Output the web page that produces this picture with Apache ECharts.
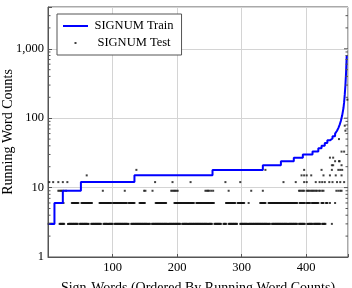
<!DOCTYPE html>
<html>
<head>
<meta charset="utf-8">
<script src="https://cdn.jsdelivr.net/npm/echarts@6/dist/echarts.min.js"></script>
<style>
  html, body { margin: 0; padding: 0; background: #fff; }
  #chart { width: 352px; height: 288px; }
</style>
</head>
<body>
<div id="chart"></div>
<script>
// train curve: sign-word index where the count changes, and the new count
const trainIdx = [1, 10, 23, 51, 134, 255, 333, 361, 381, 395, 410, 419, 424, 429, 433, 437, 441, 445, 448, 450, 452, 454, 456, 458, 459, 460, 461, 462, 463];
const trainCount = [3, 6, 9, 12, 15, 18, 21, 24, 27, 30, 33, 37, 40, 44, 48, 51, 55, 60, 66, 72, 80, 92, 110, 140, 170, 220, 300, 450, 800];

// test counts: dense rows as index runs [from, to]
const test3Runs = [[1,8],[18,25],[31,46],[49,63],[67,82],[86,100],[103,125],[129,158],[161,205],[208,254],[258,268],[272,276],[280,293],[298,344],[347,386],[389,398],[402,410],[412,422],[425,430],[440,440]];
const test6Runs = [[24,24],[37,47],[52,68],[80,98],[101,122],[125,134],[142,150],[167,183],[196,226],[230,257],[276,290],[294,304],[311,311],[329,337],[342,386],[390,398],[401,406],[409,419],[424,427],[431,433],[437,437],[445,445]];
// sparse rows: count and the sign-word indices
const sparseCounts = [9, 12, 15, 18, 21, 24, 27, 33, 50, 66, 78, 185];
const sparseIdx = [
  [16,18,20,22,24,28,85,119,149,151,162,191,193,195,197,199,201,244,246,248,250,253,256,280,315,333,389,391,393,395,397,401,403,405,407,409,411,413,415,417,420,422,425,427,447,450,453,455],
  [2,8,16,23,30,166,193,221,275,298,365,384,397,401,415,421,425,429,436,441,448,453,459],
  [60,393,397,401,408,427,437,446,455],
  [137,337,397,424,440,450,453,456],
  [440,442,455],
  [445,451,452],
  [437,442],
  [455,459],
  [451],
  [461],
  [460],
  [464]
];

const xTicks = [100, 200, 300, 400];
const yMinorTicks = [2,3,4,5,6,7,8,9,20,30,40,50,60,70,80,90,200,300,400,500,600,700,800,900,2000,3000];
const yMajorTicks = [10, 100, 1000];
const X_MAX = 465;

const trainData = trainIdx.map((x, i) => [x, trainCount[i]]);
const testData = [];
test3Runs.forEach(r => { for (let i = r[0]; i <= r[1]; i++) testData.push([i, 3]); });
test6Runs.forEach(r => { for (let i = r[0]; i <= r[1]; i++) testData.push([i, 6]); });
sparseCounts.forEach((c, k) => sparseIdx[k].forEach(i => testData.push([i, c])));

const FONT = '"Liberation Serif", "Times New Roman", serif';
const FRAME = '#555';

const chart = echarts.init(document.getElementById('chart'));
chart.setOption({
  animation: false,
  textStyle: { fontFamily: FONT, color: '#000' },
  grid: {
    left: 48, right: 4, top: 7, bottom: 31,
    outerBoundsMode: 'none', containLabel: false,
    show: true, borderColor: FRAME, borderWidth: 1
  },
  legend: {
    left: 57, top: 14,
    orient: 'vertical',
    padding: [5, 8, 5, 6],
    itemWidth: 25, itemHeight: 14, itemGap: 3,
    backgroundColor: '#fff',
    borderColor: FRAME, borderWidth: 1, borderRadius: 0,
    formatter: n => '{t|' + n + '}',
    textStyle: {
      fontFamily: FONT, color: '#000',
      rich: { t: { width: 82, align: 'center', fontSize: 12.5, fontFamily: FONT } }
    },
    data: [
      { name: 'SIGNUM Train', icon: 'path://M0,0 M25,14 M0,6 L25,6 L25,8 L0,8 Z', itemStyle: { color: '#0000ff', borderWidth: 0 } },
      { name: 'SIGNUM Test', icon: 'path://M0,0 M25,14 M11.5,6 L13.5,6 L13.5,8 L11.5,8 Z', itemStyle: { borderWidth: 0 } }
    ]
  },
  xAxis: {
    type: 'value', min: 0, max: X_MAX, interval: 100,
    name: 'Sign-Words (Ordered By Running Word Counts)',
    nameLocation: 'middle', nameGap: 24, nameMoveOverlap: false,
    nameTextStyle: { fontFamily: FONT, fontSize: 14, color: '#000' },
    axisLine: { lineStyle: { color: FRAME } },
    axisTick: { inside: true, length: 3, lineStyle: { color: FRAME } },
    axisLabel: {
      margin: 4, fontSize: 12.5, fontFamily: FONT, color: '#000',
      formatter: v => xTicks.indexOf(v) >= 0 ? String(v) : ''
    },
    splitLine: { show: true, lineStyle: { color: '#d4d4d4', width: 1 } }
  },
  yAxis: {
    type: 'log', logBase: 10, min: 1, max: 4000,
    name: 'Running Word Counts',
    nameLocation: 'middle', nameGap: 33, nameMoveOverlap: false,
    nameTextStyle: { fontFamily: FONT, fontSize: 14, color: '#000' },
    axisLine: { show: true, lineStyle: { color: FRAME } },
    axisTick: { inside: true, length: 4, lineStyle: { color: FRAME } },
    axisLabel: {
      margin: 4, fontSize: 12.5, fontFamily: FONT, color: '#000',
      formatter: v => {
        const r = Math.round(v);
        if ([1, 10, 100, 1000].indexOf(r) < 0) return '';
        return r === 1000 ? '1,000' : String(r);
      }
    },
    splitLine: { show: true, lineStyle: { color: '#d4d4d4', width: 1 } }
  },
  series: [
    {
      name: 'SIGNUM Train',
      type: 'line',
      step: 'end',
      symbol: 'none',
      data: trainData,
      color: '#0000ff',
      lineStyle: { color: '#0000ff', width: 2 },
      z: 3
    },
    {
      name: 'SIGNUM Test',
      type: 'scatter',
      symbol: 'rect',
      symbolSize: 2,
      data: testData,
      color: '#111',
      itemStyle: { color: '#111' },
      z: 2
    },
    {
      // log minor ticks on both sides, and major ticks on the right side
      name: 'ticks',
      type: 'custom',
      silent: true,
      clip: false,
      data: yMinorTicks.map(v => [v, 2.5]).concat(yMajorTicks.map(v => [v, 4])),
      encode: { y: 0 },
      renderItem: (params, api) => {
        const v = api.value(0);
        const len = api.value(1);
        const l = api.coord([0, v]);
        const r = api.coord([X_MAX, v]);
        const style = { stroke: FRAME, lineWidth: 1 };
        const children = [
          { type: 'line', shape: { x1: r[0], y1: r[1], x2: r[0] - len, y2: r[1] }, style: style }
        ];
        if (len < 4) {
          children.push({ type: 'line', shape: { x1: l[0], y1: l[1], x2: l[0] + len, y2: l[1] }, style: style });
        }
        return { type: 'group', children: children };
      },
      z: 4
    }
  ]
});
</script>
</body>
</html>
